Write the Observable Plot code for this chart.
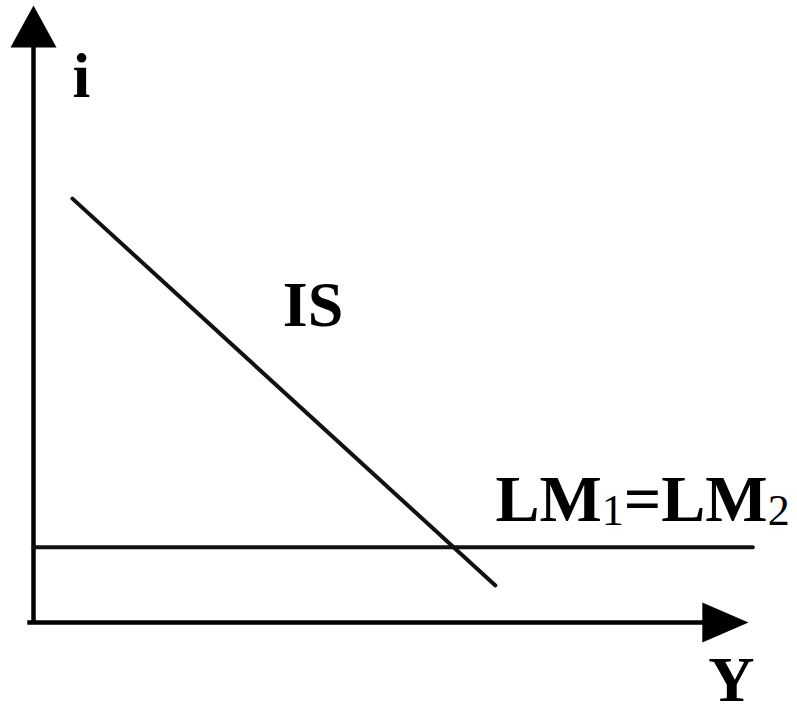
<!DOCTYPE html>
<html>
<head>
<meta charset="utf-8">
<script src="https://cdn.jsdelivr.net/npm/d3@7"></script>
<script src="https://cdn.jsdelivr.net/npm/@observablehq/plot@0.6"></script>
<style>
  html, body { margin: 0; padding: 0; background: #fff; }
  #chart svg { display: block; }
</style>
</head>
<body>
<div id="chart"></div>
<script>
// Abstract model coordinates: output Y (horizontal), interest rate i (vertical)
const isCurveY = [0.545, 6.46];
const isCurveI = [6.87, 0.6];
const lmCurveY = [0, 10.06];
const lmCurveI = [1.22, 1.22];
const axisMax = 10;
const labelText = ["i", "IS", "LM1=LM2", "Y"];
const labelY = [0.67, 3.91, 6.46, 9.76];
const labelI = [8.51, 4.81, 1.65, -1.27];
// parts of the LM label: [text, subscript?]
const lmParts = [["LM", false], ["1", true], ["=LM", false], ["2", true]];

const isData = isCurveY.map((y, k) => ({Y: y, i: isCurveI[k]}));
const lmData = lmCurveY.map((y, k) => ({Y: y, i: lmCurveI[k]}));
const labels = labelText.map((t, k) => ({t, Y: labelY[k], i: labelI[k]}));
const centered = labels.filter(d => d.t !== "LM1=LM2");
const leftAligned = labels.filter(d => d.t === "LM1=LM2");

// arrowhead symbols, tip at the origin
const arrowUp = {draw(ctx, size) { const r = Math.sqrt(size / Math.PI); ctx.moveTo(0, 0); ctx.lineTo(-r, 1.83 * r); ctx.lineTo(r, 1.83 * r); ctx.closePath(); }};
const arrowRight = {draw(ctx, size) { const r = Math.sqrt(size / Math.PI); ctx.moveTo(0, 0); ctx.lineTo(-2.2 * r, -0.95 * r); ctx.lineTo(-2.2 * r, 0.95 * r); ctx.closePath(); }};

const font = "'Liberation Serif', 'Times New Roman', serif";
const textStyle = {x: "Y", y: "i", text: "t", lineAnchor: "bottom", fontWeight: "bold", fontFamily: font, fill: "#000"};

const chart = Plot.plot({
  width: 797,
  height: 715,
  marginLeft: 33,
  marginRight: 49,
  marginTop: 5,
  marginBottom: 93,
  style: {background: "#fff"},
  x: {domain: [0, axisMax], axis: null},
  y: {domain: [0, axisMax], axis: null},
  marks: [
    Plot.ruleX([0], {y1: -0.03, y2: axisMax * 0.95, stroke: "#000", strokeWidth: 4.5}),
    Plot.ruleY([0], {x1: -0.08, x2: axisMax * 0.95, stroke: "#000", strokeWidth: 4.5}),
    Plot.dot([{Y: 0, i: axisMax}], {x: "Y", y: "i", symbol: arrowUp, r: 23, fill: "#000", stroke: null}),
    Plot.dot([{Y: axisMax, i: 0}], {x: "Y", y: "i", symbol: arrowRight, r: 21, fill: "#000", stroke: null}),
    Plot.line(lmData, {x: "Y", y: "i", stroke: "#111", strokeWidth: 4}),
    Plot.line(isData, {x: "Y", y: "i", stroke: "#111", strokeWidth: 4}),
    Plot.text(centered, {...textStyle, fontSize: 64, textAnchor: "middle"}),
    Plot.text(leftAligned, {...textStyle, fontSize: 66, textAnchor: "start"})
  ]
});

// render subscripts of the LM label as smaller, lighter tspans
d3.select(chart).selectAll("text").filter(function() { return this.textContent === "LM1=LM2"; })
  .each(function() {
    const t = d3.select(this);
    t.text(null);
    let prevSub = false;
    for (const [s, sub] of lmParts) {
      const dy = sub === prevSub ? 0 : (sub ? 4 : -4);
      const sp = t.append("tspan").text(s);
      if (dy) sp.attr("dy", dy);
      if (sub) sp.attr("font-size", 44).attr("font-weight", "normal");
      prevSub = sub;
    }
  });

document.getElementById("chart").appendChild(chart);
</script>
</body>
</html>
